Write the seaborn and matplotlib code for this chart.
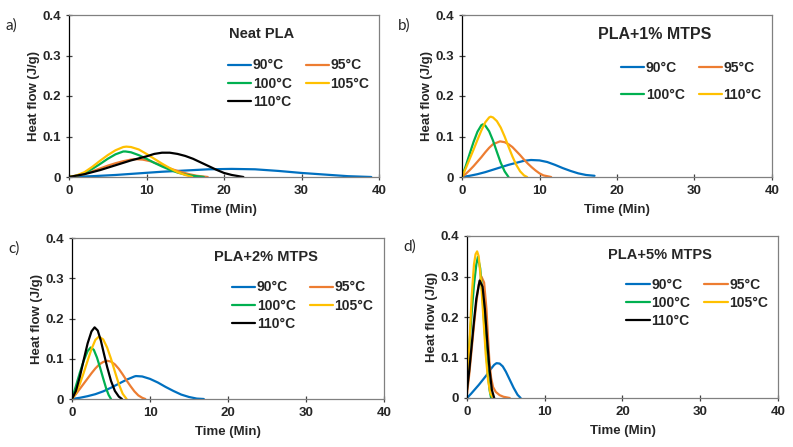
import matplotlib
matplotlib.use("Agg")
import matplotlib.pyplot as plt
import seaborn as sns
from matplotlib.ticker import FuncFormatter

# temperatures / colours
temps = ["90°C", "95°C", "100°C", "105°C", "110°C"]
colors = ["#0070C0", "#ED7D31", "#00B050", "#FFC000", "#000000"]

# a) Neat PLA
a90_t = [0, 3, 6, 9, 12, 15, 18, 21, 24, 27, 30, 33, 36, 39]
a90_h = [0, 0.002, 0.005, 0.009, 0.013, 0.016, 0.019, 0.020, 0.019, 0.015, 0.010, 0.006, 0.002, 0.0]
a95_t = [0, 1, 2, 3, 4, 5, 6, 7, 8, 8.6, 9.5, 10.5, 11.5, 12.5, 13.5, 14.5, 15.5, 16.5, 17.9]
a95_h = [0, 0.003, 0.008, 0.014, 0.021, 0.028, 0.034, 0.039, 0.043, 0.044, 0.043, 0.039, 0.032, 0.025, 0.018, 0.012, 0.007, 0.003, 0]
a100_t = [0, 1, 2, 3, 4, 5, 6, 7, 7.3, 8, 9, 10, 11, 12, 13, 14, 15, 16, 17.4]
a100_h = [0, 0.003, 0.010, 0.020, 0.032, 0.045, 0.056, 0.063, 0.063, 0.061, 0.054, 0.045, 0.035, 0.026, 0.018, 0.011, 0.006, 0.003, 0]
a105_t = [0, 1, 2, 3, 4, 5, 6, 7, 7.4, 8, 9, 10, 11, 12, 13, 14, 15, 15.9]
a105_h = [0, 0.004, 0.012, 0.025, 0.040, 0.054, 0.066, 0.074, 0.075, 0.074, 0.068, 0.057, 0.045, 0.033, 0.022, 0.012, 0.005, 0]
a110_t = [0, 2, 4, 6, 8, 10, 11, 12, 13, 14, 15, 16, 17, 18, 19, 20, 21, 22.5]
a110_h = [0, 0.007, 0.017, 0.029, 0.041, 0.051, 0.057, 0.060, 0.060, 0.057, 0.052, 0.045, 0.036, 0.027, 0.018, 0.010, 0.005, 0]

# b) PLA+1% MTPS
b90_t = [0, 1, 2, 3, 4, 5, 6, 7, 8, 8.9, 10, 11, 12, 13, 14, 15, 16, 17.1]
b90_h = [0, 0.003, 0.007, 0.012, 0.018, 0.024, 0.030, 0.035, 0.040, 0.042, 0.041, 0.037, 0.030, 0.022, 0.015, 0.009, 0.005, 0.003]
b95_t = [0, 0.5, 1, 1.5, 2, 2.5, 3, 3.5, 4, 4.9, 5.5, 6, 6.5, 7, 7.5, 8, 8.5, 9, 9.5, 10, 10.5, 11.5]
b95_h = [0, 0.008, 0.017, 0.027, 0.038, 0.049, 0.061, 0.072, 0.081, 0.088, 0.086, 0.081, 0.074, 0.064, 0.054, 0.043, 0.033, 0.024, 0.016, 0.009, 0.004, 0]
b100_t = [0, 0.5, 1, 1.5, 2, 2.5, 2.7, 3, 3.5, 4, 4.5, 5, 5.5, 6]
b100_h = [0, 0.028, 0.058, 0.087, 0.112, 0.128, 0.130, 0.127, 0.113, 0.090, 0.062, 0.035, 0.014, 0]
b110_t = [0, 0.5, 1, 1.5, 2, 2.5, 3, 3.5, 3.7, 4, 4.5, 5, 5.5, 6, 6.5, 7, 7.5, 8, 8.4]
b110_h = [0, 0.022, 0.045, 0.068, 0.092, 0.115, 0.135, 0.147, 0.149, 0.147, 0.138, 0.122, 0.100, 0.075, 0.051, 0.030, 0.014, 0.004, 0]

# c) PLA+2% MTPS
c90_t = [0, 1, 2, 3, 4, 5, 6, 7, 8, 8.2, 9, 10, 11, 12, 13, 14, 15, 16, 16.9]
c90_h = [0, 0.003, 0.007, 0.012, 0.019, 0.028, 0.038, 0.048, 0.056, 0.057, 0.056, 0.050, 0.041, 0.030, 0.020, 0.011, 0.005, 0.001, 0]
c95_t = [0, 0.5, 1, 1.5, 2, 2.5, 3, 3.5, 4, 4.5, 5, 5.5, 6, 6.5, 7, 7.5, 8, 8.5, 9, 9.4]
c95_h = [0, 0.012, 0.025, 0.038, 0.051, 0.064, 0.076, 0.086, 0.092, 0.095, 0.093, 0.086, 0.075, 0.061, 0.046, 0.032, 0.019, 0.009, 0.003, 0]
c100_t = [0, 0.5, 1, 1.5, 2, 2.4, 2.8, 3.2, 3.6, 4, 4.4, 4.7, 5]
c100_h = [0, 0.032, 0.065, 0.095, 0.119, 0.128, 0.122, 0.103, 0.078, 0.051, 0.025, 0.010, 0]
c105_t = [0, 0.5, 1, 1.5, 2, 2.5, 3, 3.45, 4, 4.5, 5, 5.5, 6, 6.5, 7]
c105_h = [0, 0.015, 0.037, 0.065, 0.095, 0.124, 0.147, 0.155, 0.148, 0.128, 0.100, 0.068, 0.037, 0.013, 0]
c110_t = [0, 0.5, 1, 1.5, 2, 2.5, 2.9, 3.3, 3.7, 4.1, 4.5, 5, 5.5, 6, 6.4]
c110_h = [0, 0.020, 0.055, 0.097, 0.138, 0.168, 0.178, 0.170, 0.145, 0.112, 0.080, 0.045, 0.020, 0.006, 0]

# d) PLA+5% MTPS
d90_t = [0, 0.5, 1, 1.5, 2, 2.5, 3, 3.5, 3.8, 4.2, 4.6, 5, 5.5, 6, 6.5, 6.9]
d90_h = [0, 0.010, 0.021, 0.032, 0.044, 0.056, 0.070, 0.082, 0.086, 0.085, 0.078, 0.065, 0.045, 0.025, 0.008, 0]
d95_t = [0, 0.3, 0.6, 0.9, 1.2, 1.5, 1.85, 2.2, 2.5, 2.7, 2.9, 3.1, 3.35, 3.7, 4.2, 4.7, 5.5]
d95_h = [0.010, 0.060, 0.120, 0.180, 0.235, 0.280, 0.300, 0.285, 0.220, 0.150, 0.085, 0.050, 0.027, 0.015, 0.007, 0.003, 0]
d100_t = [0, 0.3, 0.6, 0.9, 1.2, 1.4, 1.7, 2.0, 2.3, 2.6, 2.9, 3.1]
d100_h = [0.050, 0.130, 0.210, 0.280, 0.330, 0.348, 0.320, 0.250, 0.160, 0.080, 0.020, 0]
d105_t = [0, 0.3, 0.6, 0.9, 1.1, 1.3, 1.5, 1.8, 2.1, 2.4, 2.7, 3.0, 3.35]
d105_h = [0.030, 0.130, 0.250, 0.330, 0.355, 0.362, 0.350, 0.290, 0.200, 0.110, 0.045, 0.012, 0]
d110_t = [0, 0.3, 0.6, 0.9, 1.2, 1.63, 2.0, 2.3, 2.6, 2.9, 3.2, 3.5]
d110_h = [0.020, 0.070, 0.130, 0.190, 0.245, 0.290, 0.275, 0.220, 0.140, 0.070, 0.020, 0]

panels = [
    dict(tag="a)", title="Neat PLA", tsize=10.5, box=(69, 15, 379, 177),
         series=[(a90_t, a90_h, 0, 0), (a95_t, a95_h, 1, 1), (a100_t, a100_h, 2, 2),
                 (a105_t, a105_h, 3, 3), (a110_t, a110_h, 4, 4)],
         order=[0, 2, 4, 1, 3], rowgap=0.3, legy=0.775),
    dict(tag="b)", title="PLA+1% MTPS", tsize=11.5, box=(462, 15, 772, 177),
         series=[(b90_t, b90_h, 0, 0), (b95_t, b95_h, 1, 1), (b100_t, b100_h, 2, 2),
                 (b110_t, b110_h, 3, 4)],
         order=[0, 2, 1, 3], rowgap=0.95, legy=0.76),
    dict(tag="c)", title="PLA+2% MTPS", tsize=10.5, box=(72, 238, 384, 399),
         series=[(c90_t, c90_h, 0, 0), (c95_t, c95_h, 1, 1), (c100_t, c100_h, 2, 2),
                 (c105_t, c105_h, 3, 3), (c110_t, c110_h, 4, 4)],
         order=[0, 2, 4, 1, 3], rowgap=0.3, legy=0.78),
    dict(tag="d)", title="PLA+5% MTPS", tsize=10.5, box=(467, 236, 778, 398),
         series=[(d90_t, d90_h, 0, 0), (d95_t, d95_h, 1, 1), (d100_t, d100_h, 2, 2),
                 (d105_t, d105_h, 3, 3), (d110_t, d110_h, 4, 4)],
         order=[0, 2, 4, 1, 3], rowgap=0.3, legy=0.785),
]

sns.set_theme(style="ticks")
plt.rcParams["font.family"] = ["Liberation Sans", "DejaVu Sans"]

W, H = 793, 447
fig = plt.figure(figsize=(W / 100, H / 100), dpi=100)

for p in panels:
    l, t, r, b = p["box"]
    ax = fig.add_axes([l / W, 1 - b / H, (r - l) / W, (b - t) / H])
    for xs, ys, ci, li in p["series"]:
        sns.lineplot(x=xs, y=ys, color=colors[ci], label=temps[li], ax=ax,
                     linewidth=1.6, sort=False, estimator=None)
    ax.set_xlim(0, 40)
    ax.set_ylim(0, 0.4)
    ax.set_xticks([0, 10, 20, 30, 40])
    ax.set_yticks([0, 0.1, 0.2, 0.3, 0.4])
    ax.yaxis.set_major_formatter(FuncFormatter(lambda v, _: "0" if v == 0 else f"{v:.1f}"))
    ax.tick_params(direction="inout", length=5, width=0.9, labelsize=9.5, pad=3, color="#404040")
    for lab in ax.get_xticklabels() + ax.get_yticklabels():
        lab.set_fontweight("bold")
    for side in ["top", "right", "bottom"]:
        ax.spines[side].set_color("#808080")
        ax.spines[side].set_linewidth(0.9)
    ax.spines["left"].set_color("black")
    ax.spines["left"].set_linewidth(0.9)
    ax.set_xlabel("Time (Min)", fontsize=9.5, fontweight="bold", labelpad=5)
    ax.set_ylabel("Heat flow (J/g)", fontsize=9.5, fontweight="bold", labelpad=2)
    ax.text(0.62, 0.88, p["title"], transform=ax.transAxes, ha="center", va="center",
            fontsize=p["tsize"], fontweight="bold")
    handles, labels = ax.get_legend_handles_labels()
    ax.legend([handles[i] for i in p["order"]], [labels[i] for i in p["order"]],
              ncol=2, loc="upper left", bbox_to_anchor=(0.49, p["legy"]), frameon=False,
              prop={"size": 10, "weight": "bold"}, handlelength=1.7, handletextpad=0.1,
              columnspacing=1.0, labelspacing=p["rowgap"], borderpad=0)
    fig.text((l - 64) / W, 1 - (t + 11) / H, p["tag"], fontsize=11,
             family=["Lato", "DejaVu Sans"], ha="left", va="center")

fig.savefig("out.png", dpi=100)
